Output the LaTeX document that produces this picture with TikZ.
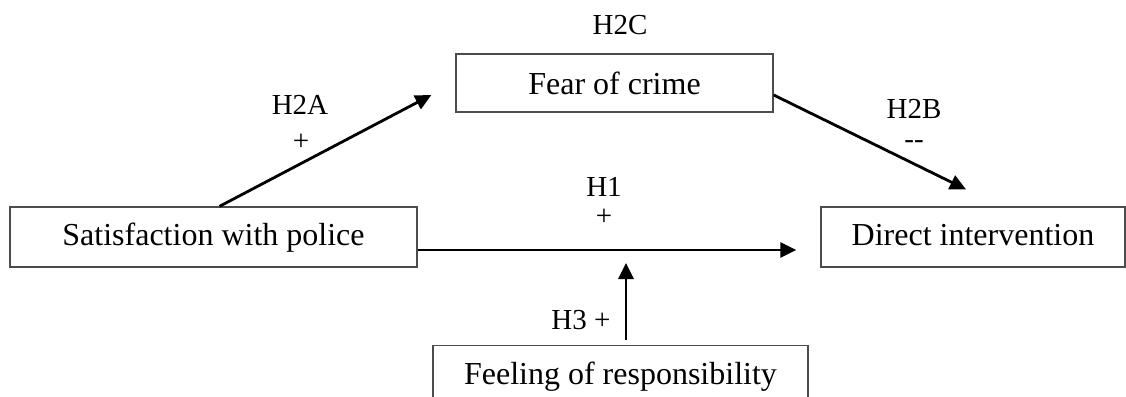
\documentclass[tikz,border=0pt]{standalone}
\usepackage{fontspec}
\setmainfont{Liberation Serif}
\usetikzlibrary{arrows.meta,calc}
\tikzset{
  box/.style={draw=black!70, line width=1.3pt, inner sep=0pt, font=\fontsize{32}{38}\selectfont},
  lbl/.style={inner sep=0pt, font=\fontsize{29}{34}\selectfont},
  arr/.style={line width=2.8pt, -{Triangle[length=16pt,width=15pt]}}
}
\begin{document}
\begin{tikzpicture}[x=1pt,y=-1pt]
\useasboundingbox (0,0) rectangle (1126,396);
\clip (0,0) rectangle (1126,396);
\node[box, minimum width=317pt, minimum height=58pt, text height=25pt, text depth=3pt] (fear) at (614.5,83) {Fear of crime};
\node[box, minimum width=407pt, minimum height=60pt, text height=23pt, text depth=7pt] (sat) at (213.5,237) {Satisfaction with police};
\node[box, minimum width=304pt, minimum height=60pt, text height=23pt, text depth=7pt] (dir) at (973,237) {Direct intervention};
\node[box, anchor=north, minimum width=375pt, text height=39pt, text depth=20pt] (feel) at (620.5,345) {Feeling of responsibility};
\node[lbl] (h2c) at (620,25) {H2C};
\node[lbl] (h2a) at (300,105) {H2A};
\node[lbl] (h2ap) at (301,142) {+};
\node[lbl] (h2b) at (914,109) {H2B};
\node[lbl] (h2bm) at (914,145) {-{}-};
\node[lbl] (h1) at (604,187) {H1};
\node[lbl] (h1p) at (604,217) {+};
\node[lbl] (h3) at (581,320) {H3 +};
\coordinate (h3tip) at (626,263);
\coordinate (h3start) at ([xshift=5.5pt,yshift=5pt]feel.north);
\draw[arr] ([xshift=6pt]sat.north) -- ([xshift=-24pt,yshift=-12pt]fear.west);
\draw[arr] ([yshift=-12pt]fear.east) -- ([xshift=-7pt,yshift=17pt]dir.north);
\draw[arr] ([yshift=-13pt]sat.east) -- ([xshift=-24pt,yshift=-13pt]dir.west);
\draw[arr] (h3start) -- (h3tip);
\end{tikzpicture}
\end{document}
